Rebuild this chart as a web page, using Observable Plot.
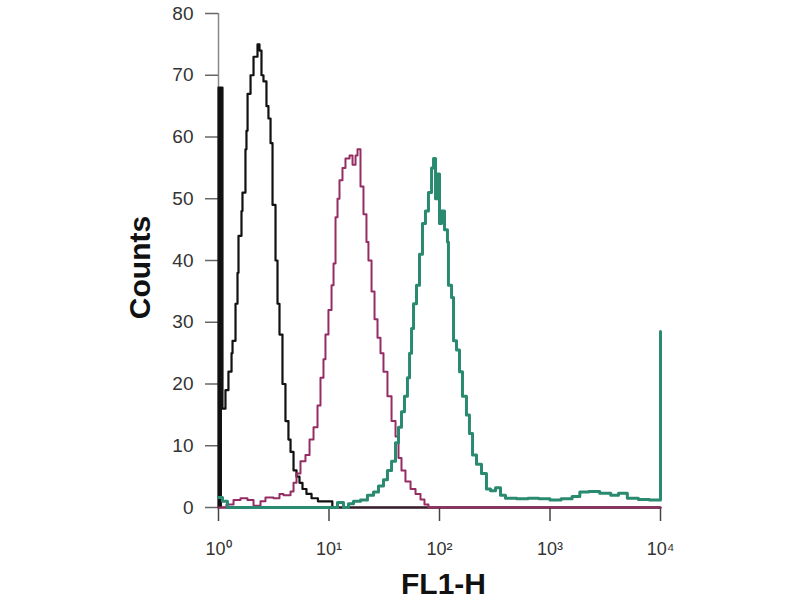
<!DOCTYPE html>
<html>
<head>
<meta charset="utf-8">
<script src="https://cdn.jsdelivr.net/npm/d3@7"></script>
<script src="https://cdn.jsdelivr.net/npm/@observablehq/plot@0.6"></script>
<style>
  html, body { margin: 0; padding: 0; background: #fff; }
  #chart svg { display: block; }
</style>
</head>
<body>
<div id="chart"></div>
<script>
// Decade positions (log10 of FL1-H) and counts
const blackDecade = [0, 0, 0.036, 0.063, 0.090, 0.118, 0.127, 0.154, 0.172, 0.181, 0.208, 0.217, 0.244, 0.253, 0.263, 0.290, 0.317, 0.335, 0.353, 0.371, 0.389, 0.407, 0.434, 0.452, 0.471, 0.489, 0.516, 0.534, 0.552, 0.579, 0.606, 0.633, 0.652, 0.679, 0.706, 0.733, 0.760, 0.796, 0.842, 0.900, 0.950, 1.000, 1.030, 4.0];
const blackCounts = [0, 68, 16, 19, 22, 25, 27, 33, 38, 44, 48, 51, 58, 61, 67, 70, 73, 73, 75, 74, 70, 69, 65, 63, 59, 49, 40, 33, 28, 20, 14, 11, 9, 6, 5, 4, 3, 2.2, 1.5, 1, 1, 1, 0, 0];

const magentaDecade = [0, 0.072, 0.136, 0.199, 0.262, 0.317, 0.380, 0.425, 0.498, 0.552, 0.588, 0.652, 0.679, 0.706, 0.742, 0.787, 0.824, 0.860, 0.896, 0.923, 0.950, 0.968, 0.995, 1.023, 1.041, 1.059, 1.077, 1.095, 1.122, 1.149, 1.186, 1.213, 1.240, 1.258, 1.285, 1.312, 1.339, 1.357, 1.385, 1.412, 1.439, 1.466, 1.493, 1.529, 1.566, 1.602, 1.629, 1.656, 1.692, 1.738, 1.783, 1.828, 1.864, 1.900, 4.0];
const magentaCounts = [0, 0.5, 1.2, 1.5, 1.2, 0.3, 1.0, 1.6, 1.5, 2.2, 2.0, 2.6, 4, 5.5, 7.5, 8.5, 11, 13, 16.5, 21, 24, 28, 32, 36, 39.5, 47, 50, 53, 55, 56.5, 57, 55.5, 57, 58, 52, 47.5, 43, 40, 35, 30.5, 27.5, 25, 22, 18, 14, 11.5, 8, 6, 4.2, 3, 2.2, 1.3, 0.5, 0, 0];

const tealDecade = [0, 0.036, 0.081, 1.041, 1.077, 1.131, 1.176, 1.222, 1.285, 1.348, 1.403, 1.448, 1.493, 1.529, 1.566, 1.602, 1.629, 1.656, 1.683, 1.710, 1.729, 1.747, 1.765, 1.792, 1.819, 1.846, 1.873, 1.900, 1.928, 1.946, 1.964, 1.982, 2.000, 2.018, 2.045, 2.072, 2.081, 2.109, 2.127, 2.154, 2.181, 2.208, 2.244, 2.271, 2.299, 2.335, 2.380, 2.425, 2.462, 2.507, 2.552, 2.597, 2.70, 2.80, 2.90, 3.00, 3.10, 3.20, 3.27, 3.35, 3.45, 3.55, 3.62, 3.70, 3.80, 3.90, 3.98, 4.00];
const tealCounts = [1.6, 1.0, 0, 0, 0.8, 0, 0.6, 1.0, 1.2, 2.0, 2.5, 3.5, 4.5, 6, 7.5, 10.5, 13, 15.5, 18, 21, 25, 29, 33, 36, 41, 46, 48, 51, 55, 56.5, 50, 54, 46, 48, 45, 43, 36, 34, 27, 25.5, 22, 18, 15, 12, 8.5, 7, 5.5, 3, 2.7, 3.2, 2, 1.5, 1.4, 1.5, 1.4, 1.2, 1.4, 1.8, 2.5, 2.6, 2.3, 2.0, 2.3, 1.5, 1.3, 1.2, 1.2, 28.5];

const xTicks = [1, 10, 100, 1000, 10000];
const xTickLabels = ["10⁰", "10¹", "10²", "10³", "10⁴"];
const yTicks = [0, 10, 20, 30, 40, 50, 60, 70, 80];
const xLabel = "FL1-H";
const yLabel = "Counts";

const toRows = (dec, cnt) => dec.map((d, i) => ({x: Math.pow(10, d), y: cnt[i]}));
const black = toRows(blackDecade, blackCounts);
const magenta = toRows(magentaDecade, magentaCounts);
const teal = toRows(tealDecade, tealCounts);

const chart = Plot.plot({
  width: 800,
  height: 600,
  marginLeft: 218,
  marginRight: 140,
  marginTop: 13,
  marginBottom: 93,
  style: {fontFamily: "'Liberation Sans', Arial, sans-serif", background: "#fff", color: "#333"},
  x: {type: "log", domain: [1, 10000]},
  y: {domain: [0, 80]},
  marks: [
    Plot.ruleX([1], {y1: 0, y2: 80, stroke: "#888", strokeWidth: 1.5}),
    Plot.axisY({ticks: yTicks, tickSize: 13, tickPadding: 12, fontSize: 19, label: null, stroke: "#666", strokeWidth: 1.5, fill: "#333"}),
    Plot.axisX({ticks: xTicks, tickFormat: d => xTickLabels[Math.round(Math.log10(d))], tickSize: 14, tickPadding: 21, fontSize: 18, label: null, stroke: "#444", strokeWidth: 1.5, fill: "#333"}),
    // first (pile-up) channel of the unstained control drawn as a solid bin
    Plot.areaY(black.slice(1, 3), {x: "x", y: "y", curve: "step-after", fill: "#111"}),
    Plot.line(black, {x: "x", y: "y", curve: "step-after", stroke: "#111", strokeWidth: 2.2}),
    Plot.ruleY([0], {stroke: "#3a1a2a", strokeWidth: 2}),
    Plot.line(magenta, {x: "x", y: "y", curve: "step-after", stroke: "#952c63", strokeWidth: 2}),
    Plot.line(teal, {x: "x", y: "y", curve: "step-after", stroke: "#2a8a70", strokeWidth: 3}),
    Plot.text([yLabel], {frameAnchor: "left", textAnchor: "middle", lineAnchor: "middle", rotate: -90, dx: -78, dy: 7, fontSize: 30, fontWeight: "bold", fill: "#111"}),
    Plot.text([xLabel], {frameAnchor: "bottom", textAnchor: "middle", lineAnchor: "middle", dx: 4, dy: 77, fontSize: 30, fontWeight: "bold", fill: "#111"})
  ]
});
document.getElementById("chart").appendChild(chart);
</script>
</body>
</html>
